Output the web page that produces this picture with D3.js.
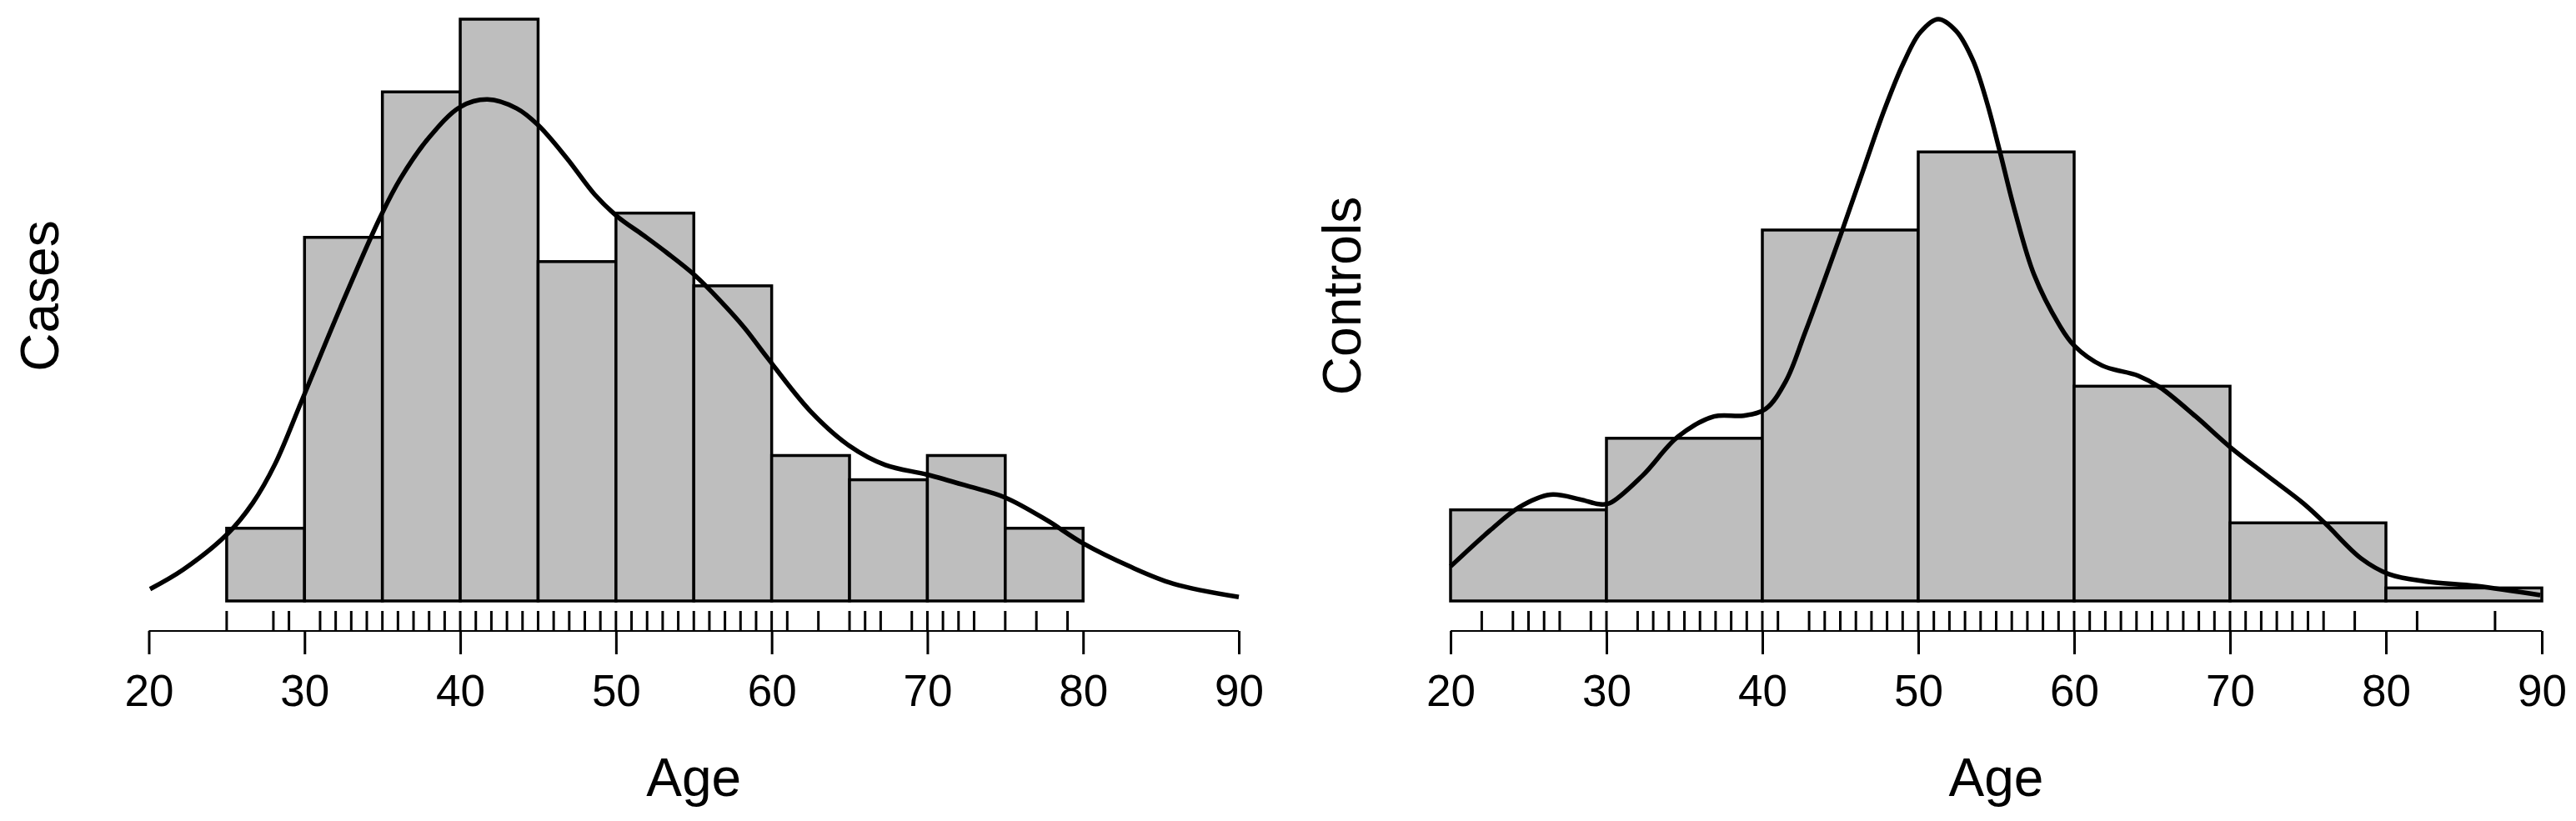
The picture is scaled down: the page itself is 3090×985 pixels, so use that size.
<!DOCTYPE html>
<html>
<head>
<meta charset="utf-8">
<script src="https://cdn.jsdelivr.net/npm/d3@7"></script>
<style>
  body { margin: 0; background: #fff; }
  svg { display: block; }
  text { font-family: "Liberation Sans", Arial, Helvetica, sans-serif; fill: #000; }
</style>
</head>
<body>
<svg id="chart" width="3090" height="985"></svg>
<script>
// x axis ticks shared by both panels
const ageTicks = [20, 30, 40, 50, 60, 70, 80, 90];

// Cases: histogram (5-year bins), rug of observed ages, density curve
const casesBreaks = [25, 30, 35, 40, 45, 50, 55, 60, 65, 70, 75, 80];
const casesCounts = [3, 15, 21, 24, 14, 16, 13, 6, 5, 6, 3];
const casesRug = [25, 28, 29, 31, 32, 33, 34, 35, 36, 37, 38, 39, 40, 41, 42, 43, 44, 45,
  46, 47, 48, 49, 50, 51, 52, 53, 54, 55, 56, 57, 58, 59, 60, 61, 63, 65, 66, 67, 69, 70,
  71, 72, 73, 75, 77, 79];
const casesDensAge = [20.08, 22.22, 25.08, 26.68, 28.11, 29.8, 32.3, 34.8, 36.14, 37.92, 40,
  41.75, 43.63, 45, 46.85, 48.63, 50.06, 51.84, 53.27, 55.05, 56.66, 58.26, 59.69, 62.5, 65,
  67.3, 70, 72.6, 75, 77.7, 80, 83, 85.8, 90];
const casesDens = [0.00078, 0.00206, 0.00442, 0.00642, 0.00897, 0.01306, 0.0192, 0.025,
  0.02762, 0.03025, 0.03235, 0.03284, 0.03225, 0.03116, 0.02898, 0.02662, 0.0252, 0.02389,
  0.0228, 0.02134, 0.0197, 0.01788, 0.01597, 0.01241, 0.01015, 0.0089, 0.00827, 0.00752,
  0.00677, 0.00527, 0.00377, 0.00226, 0.00113, 0.00026];

// Controls: histogram (10-year bins), rug, density curve
const controlsBreaks = [20, 30, 40, 50, 60, 70, 80, 90];
const controlsCounts = [14, 25, 57, 69, 33, 12, 2];
const controlsRug = [22, 24, 25, 26, 27, 29, 30, 32, 33, 34, 35, 36, 37, 38, 39, 40, 41,
  43, 44, 45, 46, 47, 48, 49, 50, 51, 52, 53, 54, 55, 56, 57, 58, 59, 60, 61, 62, 63, 64,
  65, 66, 67, 68, 69, 70, 71, 72, 73, 74, 75, 76, 78, 82, 87];
const controlsDensAge = [20, 22.5, 24.4, 26.4, 28.3, 29.5, 30.2, 32.3, 34.6, 36.9, 38.8,
  40.2, 41.5, 42.73, 45.13, 46.56, 47.81, 49.05, 50.12, 51.28, 52.44, 53.51, 54.4, 55.2,
  56.19, 57.43, 59.04, 60, 61.8, 64.1, 65.5, 67.8, 70.1, 72.4, 74.7, 76.1, 78.4, 80.2, 82.5,
  85.8, 89.9];
const controlsDens = [0.0025, 0.00508, 0.00679, 0.0077, 0.00736, 0.00702, 0.00708, 0.00907,
  0.01192, 0.01337, 0.01343, 0.01391, 0.01591, 0.01942, 0.02688, 0.03152, 0.03555, 0.03898,
  0.0412, 0.04217, 0.0413, 0.03918, 0.03616, 0.03273, 0.02829, 0.02365, 0.02002, 0.01851,
  0.01706, 0.01633, 0.01549, 0.01337, 0.01107, 0.00907, 0.00708, 0.00563, 0.00309, 0.00194,
  0.00142, 0.00109, 0.00042];

const svg = d3.select("#chart");

function drawPanel(p) {
  const g = svg.append("g");
  const x = d3.scaleLinear().domain([20, 90]).range([p.x0, p.x1]);

  const n = d3.sum(p.counts);
  const bins = p.counts.map((c, i) => ({
    a: p.breaks[i],
    b: p.breaks[i + 1],
    dens: c / (n * (p.breaks[i + 1] - p.breaks[i]))
  }));
  const curve = p.densAge.map((a, i) => [a, p.dens[i]]);

  const ymax = Math.max(d3.max(bins, d => d.dens), d3.max(curve, d => d[1]));
  const y = d3.scaleLinear().domain([0, ymax]).range([721, 23]);

  // histogram bars
  g.append("g")
    .selectAll("rect")
    .data(bins)
    .enter()
    .append("rect")
    .attr("x", d => x(d.a))
    .attr("y", d => y(d.dens))
    .attr("width", d => x(d.b) - x(d.a))
    .attr("height", d => y(0) - y(d.dens))
    .attr("fill", "#bebebe")
    .attr("stroke", "#000")
    .attr("stroke-width", 3.5);

  // density curve
  g.append("path")
    .datum(curve)
    .attr("d", d3.line()
      .x(d => x(d[0]))
      .y(d => y(d[1]))
      .curve(d3.curveCatmullRom.alpha(0.5)))
    .attr("fill", "none")
    .attr("stroke", "#000")
    .attr("stroke-width", 5.5)
    .attr("stroke-linejoin", "round");

  // rug
  g.append("g")
    .selectAll("line")
    .data(p.rug)
    .enter()
    .append("line")
    .attr("x1", d => x(d))
    .attr("x2", d => x(d))
    .attr("y1", 733)
    .attr("y2", 757)
    .attr("stroke", "#000")
    .attr("stroke-width", 3);

  // x axis
  const axis = d3.axisBottom(x)
    .tickValues(ageTicks)
    .tickSize(28)
    .tickPadding(0)
    .tickFormat(d3.format("d"));
  const ax = g.append("g")
    .attr("transform", "translate(0,757)")
    .call(axis);
  ax.select(".domain")
    .attr("d", `M${x(20)},0H${x(90)}`)
    .attr("stroke", "#000")
    .attr("stroke-width", 2);
  ax.selectAll(".tick line")
    .attr("stroke", "#000")
    .attr("stroke-width", 3);
  ax.selectAll(".tick text")
    .attr("y", 90)
    .attr("dy", null)
    .attr("fill", "#000")
    .style("font-size", "53px")
    .style("font-family", "'Liberation Sans', Arial, sans-serif");

  g.append("text")
    .attr("x", (p.x0 + p.x1) / 2)
    .attr("y", 955)
    .attr("text-anchor", "middle")
    .style("font-size", "64px")
    .text("Age");

  g.append("text")
    .attr("transform", `translate(${p.labelX},355) rotate(-90)`)
    .attr("text-anchor", "middle")
    .style("font-size", "64px")
    .text(p.label);
}

drawPanel({
  x0: 178.5, x1: 1486, labelX: 70, label: "Cases",
  breaks: casesBreaks, counts: casesCounts, rug: casesRug,
  densAge: casesDensAge, dens: casesDens
});

drawPanel({
  x0: 1740, x1: 3049, labelX: 1632, label: "Controls",
  breaks: controlsBreaks, counts: controlsCounts, rug: controlsRug,
  densAge: controlsDensAge, dens: controlsDens
});
</script>
</body>
</html>
